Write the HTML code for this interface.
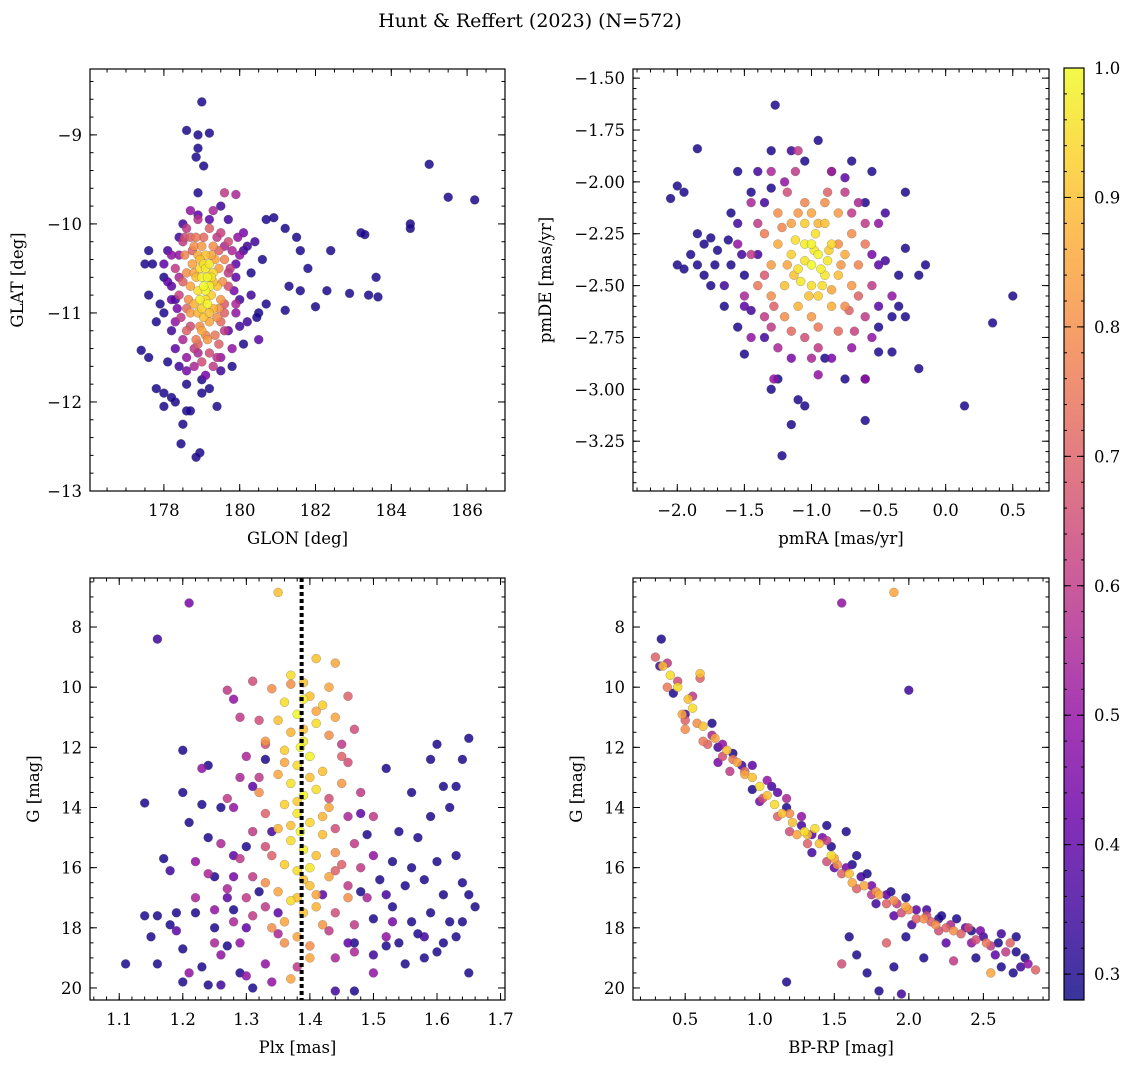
<!DOCTYPE html>
<html><head><meta charset="utf-8">
<style>
body{margin:0;background:#fff;}
svg{display:block;font-family:"DejaVu Serif","Liberation Serif",serif;}
</style></head>
<body>
<svg id="fig" width="1136" height="1068" viewBox="0 0 1136 1068" xmlns="http://www.w3.org/2000/svg">
<text x="530" y="27" font-size="19" text-anchor="middle">Hunt &amp; Reffert (2023) (N=572)</text>
</svg>
<script>
// ---- data: [x, y, membership probability] ----
const skyPoints = [
[179.0,-8.63,.3],[178.6,-8.95,.3],[178.9,-9.0,.3],[179.2,-8.98,.3],[178.9,-9.15,.3],[178.85,-9.25,.3],[179.05,-9.35,.3],[178.9,-9.65,.3],
[185.0,-9.33,.3],[185.5,-9.7,.3],[186.2,-9.73,.3],[184.5,-10.0,.3],[184.5,-10.05,.3],[183.2,-10.1,.3],[183.3,-10.12,.3],[182.4,-10.3,.3],
[181.5,-10.15,.3],[181.2,-10.05,.3],[180.7,-9.95,.3],[180.9,-9.93,.3],[181.6,-10.3,.3],[181.8,-10.5,.3],[180.1,-10.3,.35],[180.3,-10.55,.3],
[181.3,-10.7,.3],[181.6,-10.75,.3],[182.3,-10.75,.3],[182.9,-10.78,.3],[183.4,-10.8,.3],[183.65,-10.82,.3],[183.6,-10.6,.3],[182.0,-10.93,.3],
[181.2,-10.97,.3],[180.7,-10.9,.3],[180.5,-11.0,.3],[180.45,-11.05,.3],[180.0,-11.15,.35],[180.1,-11.35,.3],[179.8,-11.6,.3],[179.4,-12.05,.3],
[179.0,-11.9,.3],[178.6,-12.1,.3],[178.7,-12.1,.3],[178.5,-12.25,.3],[178.45,-12.47,.3],[178.95,-12.57,.3],[178.85,-12.62,.3],[178.3,-12.0,.3],
[178.2,-11.95,.3],[177.8,-11.85,.3],[178.0,-11.9,.3],[178.0,-12.05,.3],[177.6,-11.5,.3],[177.4,-11.42,.3],[178.1,-11.55,.3],[178.4,-11.6,.35],
[178.6,-11.8,.3],[179.0,-11.75,.3],[179.2,-11.85,.3],[179.5,-11.65,.35],[177.6,-10.8,.3],[177.5,-10.45,.3],[177.7,-10.45,.3],[177.6,-10.3,.3],
[178.1,-10.3,.35],[178.0,-10.6,.3],[177.9,-10.9,.3],[178.0,-11.0,.3],[177.8,-11.1,.3],[178.2,-11.2,.35],[178.3,-10.85,.35],[178.4,-10.15,.35],
[178.5,-10.0,.35],[178.9,-9.9,.4],[179.2,-9.95,.4],[179.5,-9.8,.35],[179.7,-9.95,.35],[180.2,-10.25,.35],[180.6,-10.4,.3],[180.0,-10.85,.35],
[180.2,-11.1,.35],[179.7,-11.2,.4],[179.9,-10.6,.4],[178.2,-10.7,.4],
[178.5,-10.2,.6],[179.5,-10.1,.62],[179.8,-10.3,.55],[179.6,-9.65,.6],[179.9,-9.67,.55],[178.9,-9.95,.58],[178.8,-11.4,.6],[179.4,-11.5,.58],
[179.2,-11.45,.65],[178.5,-11.3,.55],[179.6,-11.2,.6],[178.3,-10.5,.6],[179.9,-10.9,.55],[178.6,-11.5,.5],[179.0,-11.55,.65],[179.7,-10.7,.65],
[179.75,-10.5,.6],[178.4,-10.8,.62],[178.45,-11.05,.6],[179.6,-11.0,.7],[179.7,-10.2,.65],[178.6,-10.05,.6],[179.2,-10.05,.7],[178.7,-10.15,.7],
[179.45,-11.35,.7],[178.6,-11.2,.7],[178.9,-11.45,.55],[178.2,-10.35,.5],[180.0,-10.35,.5],[178.3,-11.1,.5],[179.8,-11.4,.5],[179.3,-9.85,.55],
[178.7,-9.85,.5],[180.1,-10.1,.45],[179.9,-11.0,.5],[179.95,-10.15,.5],
[179.1,-10.5,.97],[179.0,-10.6,.98],[179.2,-10.7,.99],[178.9,-10.75,.96],[179.1,-10.85,.95],[179.3,-10.55,.94],[179.0,-10.95,.93],[179.2,-10.45,.97],
[178.95,-10.5,.95],[179.15,-10.6,.99],[179.25,-10.8,.92],[178.85,-10.6,.9],[179.05,-11.05,.9],[179.3,-10.95,.88],[178.8,-10.9,.87],[179.4,-10.7,.9],
[179.1,-10.35,.9],[178.9,-10.35,.86],[179.35,-10.4,.85],[179.45,-10.5,.83],[178.75,-10.45,.84],[178.7,-10.7,.85],[179.5,-10.85,.82],[178.7,-11.0,.83],
[179.2,-11.1,.85],[178.95,-11.15,.8],[179.4,-11.05,.8],[178.6,-10.55,.8],[178.65,-10.85,.8],[179.55,-10.65,.8],[179.0,-10.25,.82],[179.3,-10.25,.8],
[178.8,-10.25,.8],[179.6,-10.4,.78],[178.55,-10.35,.78],[179.1,-11.25,.78],[178.85,-11.3,.76],[179.35,-11.25,.75],[179.05,-10.7,1.0],[179.15,-10.9,.99],
[178.95,-10.85,.98],[179.25,-10.6,.96],[179.05,-10.45,.96],[179.1,-10.75,.99]
];
const skyExtra = [
[178.8,-10.55,.85],[179.3,-10.65,.9],[178.9,-11.0,.88],[179.2,-11.0,.9],[179.0,-11.2,.85],[179.15,-11.3,.82],[178.95,-10.4,.9],[179.25,-10.35,.85],
[178.75,-10.3,.7],[179.45,-10.3,.7],[179.5,-11.1,.72],[178.6,-10.95,.72],[178.5,-10.65,.7],[179.6,-10.9,.68],[179.7,-10.55,.6],[178.4,-10.6,.55],
[178.35,-10.95,.45],[178.2,-10.85,.4],[179.85,-10.75,.45],[179.9,-10.45,.4],[178.55,-10.15,.65],[179.4,-10.15,.6],[178.8,-11.6,.55],[179.3,-11.6,.6],
[178.6,-11.65,.45],[179.5,-11.5,.5],[178.0,-10.45,.4],[178.1,-10.65,.4],[180.3,-10.8,.35],[180.4,-10.2,.35],[178.3,-11.4,.4],[179.1,-11.7,.45],
[178.4,-10.35,.5],[179.6,-10.25,.55],[178.7,-11.15,.65],[179.45,-10.95,.8],[178.85,-10.15,.75],[179.05,-10.15,.72],[178.9,-11.35,.7],[180.5,-11.3,.4]
];
const pmPoints = [
[-1.27,-1.63,.3],[-1.85,-1.84,.3],[-0.95,-1.8,.3],[-1.3,-1.85,.3],[-1.15,-1.85,.35],[-1.05,-1.9,.3],[-0.7,-1.9,.3],[-1.55,-1.95,.3],[-0.85,-1.95,.3],
[-0.55,-1.95,.3],[-1.3,-2.03,.3],[-2.0,-2.02,.3],[-2.05,-2.08,.3],[-1.95,-2.05,.3],[-0.3,-2.05,.3],[-1.45,-2.05,.3],[-0.6,-2.1,.3],[-1.6,-2.15,.3],
[-1.35,-2.1,.35],[-1.85,-2.25,.3],[-1.75,-2.27,.3],[-1.8,-2.3,.3],[-1.7,-2.33,.3],[-1.6,-2.4,.3],[-1.9,-2.35,.3],[-2.0,-2.4,.3],[-1.95,-2.42,.3],
[-1.85,-2.4,.3],[-1.75,-2.5,.3],[-1.5,-2.45,.3],[-1.4,-2.35,.35],[-0.3,-2.32,.3],[-0.35,-2.45,.3],[-0.2,-2.45,.3],[-0.15,-2.4,.3],[-0.45,-2.38,.35],
[-0.4,-2.65,.3],[-0.3,-2.65,.3],[-0.35,-2.6,.3],[-0.5,-2.7,.3],[0.5,-2.55,.3],[0.35,-2.68,.3],[-0.2,-2.9,.3],[0.14,-3.08,.3],[-0.4,-2.82,.3],
[-0.6,-2.95,.3],[-0.6,-3.15,.3],[-0.75,-2.95,.3],[-0.9,-2.85,.3],[-1.15,-3.17,.3],[-1.05,-3.08,.3],[-1.1,-3.05,.3],[-1.22,-3.32,.3],[-1.3,-3.0,.3],
[-1.25,-2.95,.3],[-1.5,-2.83,.3],[-1.35,-2.75,.35],[-1.55,-2.7,.3],[-1.65,-2.6,.3],[-1.45,-2.62,.35],[-0.5,-2.82,.3],
[-1.45,-2.35,.6],[-1.35,-2.65,.6],[-0.55,-2.5,.6],[-0.6,-2.65,.6],[-1.1,-1.85,.6],[-1.3,-1.95,.55],[-0.75,-2.05,.6],[-0.65,-2.1,.55],[-1.45,-2.1,.55],
[-1.5,-2.55,.55],[-1.25,-2.8,.55],[-0.95,-2.8,.6],[-0.7,-2.8,.5],[-1.45,-2.75,.5],[-0.5,-2.2,.5],[-0.85,-1.95,.55],[-1.2,-2.0,.5],[-0.55,-2.75,.5],
[-1.55,-2.3,.5],[-1.0,-2.85,.55],[-0.6,-2.95,.5],[-1.28,-2.95,.5],[-1.12,-1.95,.6],[-0.4,-2.55,.5],[-0.95,-2.93,.5],
[-1.0,-2.4,1],[-0.95,-2.35,.99],[-1.05,-2.3,.98],[-0.9,-2.45,.97],[-1.1,-2.42,.96],[-1.0,-2.5,.95],[-0.85,-2.3,.94],[-1.15,-2.35,.93],[-0.95,-2.55,.92],
[-1.05,-2.2,.92],[-0.9,-2.2,.9],[-1.2,-2.5,.9],[-0.8,-2.45,.9],[-1.1,-2.6,.88],[-0.85,-2.6,.87],[-1.25,-2.3,.86],[-0.75,-2.35,.86],[-1.0,-2.15,.85],
[-1.15,-2.2,.84],[-0.8,-2.15,.83],[-1.3,-2.4,.83],[-0.7,-2.5,.82],[-1.0,-2.65,.82],[-1.2,-2.65,.8],[-0.75,-2.6,.8],[-1.3,-2.55,.8],[-0.7,-2.25,.8],
[-1.25,-2.15,.8],[-0.9,-2.1,.8],[-1.05,-2.1,.78],[-0.65,-2.4,.78],[-1.35,-2.25,.76],[-1.4,-2.5,.75],[-0.6,-2.3,.75],[-0.95,-2.7,.75],[-1.15,-2.72,.72],
[-0.8,-2.72,.72],[-1.0,-2.3,.99],[-0.93,-2.42,.98],[-1.08,-2.48,.97],[-0.97,-2.25,.96],[-1.12,-2.28,.95],[-0.88,-2.38,.97]
];
const pmExtra = [
[-0.98,-2.33,.97],[-0.92,-2.5,.95],[-1.05,-2.38,.96],[-0.87,-2.33,.92],[-1.13,-2.45,.9],[-1.02,-2.55,.9],[-0.95,-2.2,.88],[-1.1,-2.15,.82],
[-0.85,-2.52,.85],[-1.18,-2.4,.85],[-0.78,-2.4,.82],[-0.8,-2.3,.8],[-1.22,-2.22,.78],[-0.72,-2.62,.7],[-1.28,-2.6,.7],[-0.65,-2.55,.7],
[-1.35,-2.45,.68],[-0.6,-2.2,.6],[-1.4,-2.2,.6],[-1.05,-2.75,.65],[-0.88,-2.05,.7],[-1.18,-2.05,.65],[-0.7,-2.15,.6],[-1.3,-2.7,.6],
[-0.68,-2.72,.62],[-1.52,-2.35,.35],[-1.62,-2.28,.3],[-1.72,-2.4,.3],[-1.8,-2.45,.3],[-1.65,-2.5,.35],[-1.55,-2.2,.35],[-1.5,-2.6,.4],
[-0.5,-2.4,.4],[-0.5,-2.6,.4],[-0.55,-2.35,.45],[-0.45,-2.15,.35],[-0.85,-2.85,.45],[-1.15,-2.85,.45],[-0.75,-1.98,.4],[-1.4,-1.95,.35]
];
const plxPoints = [
[1.21,7.2,.45],[1.16,8.4,.35],[1.11,19.2,.3],[1.14,13.85,.3],[1.14,17.6,.3],[1.15,18.3,.3],[1.16,17.6,.3],[1.16,19.2,.3],[1.17,15.7,.3],[1.18,17.9,.3],
[1.18,16.1,.35],[1.19,17.5,.3],[1.20,12.1,.3],[1.20,13.5,.3],[1.20,18.7,.3],[1.20,19.8,.3],[1.21,14.5,.3],[1.22,17.5,.3],[1.23,13.9,.3],[1.23,19.3,.3],
[1.24,12.6,.3],[1.24,15.0,.3],[1.24,19.9,.3],[1.25,16.3,.3],[1.25,18.0,.3],[1.26,14.0,.3],[1.27,18.6,.3],[1.28,17.4,.3],[1.29,19.5,.3],[1.30,15.3,.3],
[1.31,20.0,.3],[1.32,16.8,.3],[1.33,12.4,.3],[1.34,14.8,.35],[1.47,20.1,.3],[1.47,18.5,.3],[1.48,16.8,.3],[1.49,14.9,.3],[1.50,17.7,.3],[1.51,16.4,.3],
[1.52,12.7,.3],[1.52,18.6,.3],[1.53,15.8,.3],[1.53,17.3,.3],[1.54,14.8,.3],[1.54,18.5,.3],[1.55,16.6,.3],[1.55,19.2,.3],[1.56,17.8,.3],[1.56,13.5,.3],
[1.57,15.0,.3],[1.57,18.2,.3],[1.58,16.4,.3],[1.58,19.0,.3],[1.59,12.4,.3],[1.59,14.3,.3],[1.59,17.5,.3],[1.60,11.9,.3],[1.60,15.8,.3],[1.60,18.8,.3],
[1.61,16.9,.3],[1.61,13.3,.3],[1.62,14.0,.3],[1.62,17.8,.3],[1.63,13.3,.3],[1.63,15.6,.3],[1.63,18.3,.3],[1.64,12.4,.3],[1.64,16.5,.3],[1.64,17.8,.3],
[1.65,11.7,.3],[1.65,16.9,.3],[1.65,19.5,.3],[1.66,17.3,.3],[1.61,18.5,.3],[1.56,16.0,.3],[1.42,16.9,.4],[1.46,18.5,.4],[1.30,18.0,.4],[1.27,17.0,.4],
[1.48,14.2,.4],[1.31,13.3,.4],[1.35,17.5,.4],[1.50,18.9,.35],[1.26,19.9,.35],[1.44,20.1,.35],[1.52,16.9,.35],[1.28,15.6,.4],[1.58,18.3,.35],
[1.31,9.8,.65],[1.27,10.1,.6],[1.29,11.0,.6],[1.33,11.9,.65],[1.45,11.9,.6],[1.47,11.4,.65],[1.30,12.3,.55],[1.46,12.5,.65],[1.32,13.0,.6],[1.48,13.5,.6],
[1.27,13.7,.6],[1.46,14.3,.55],[1.50,14.3,.6],[1.28,14.0,.5],[1.31,14.8,.6],[1.44,14.7,.65],[1.26,15.2,.55],[1.33,15.3,.65],[1.47,15.2,.6],[1.29,15.7,.6],
[1.45,15.9,.7],[1.24,16.2,.55],[1.31,16.3,.6],[1.48,16.0,.6],[1.27,16.7,.55],[1.46,16.6,.6],[1.22,17.0,.55],[1.30,17.0,.6],[1.49,17.0,.55],[1.25,17.4,.5],
[1.33,17.3,.6],[1.44,17.5,.65],[1.28,17.8,.55],[1.47,17.9,.6],[1.35,18.2,.55],[1.52,18.3,.5],[1.29,18.5,.5],[1.43,18.1,.6],[1.26,18.9,.5],[1.44,19.0,.55],
[1.38,19.3,.6],[1.30,19.6,.5],[1.33,19.2,.5],[1.50,19.5,.5],[1.21,19.5,.5],[1.23,12.7,.5],[1.28,10.4,.5],
[1.35,6.85,.9],[1.41,9.05,.9],[1.44,9.2,.85],[1.37,9.6,.95],[1.39,9.85,.9],[1.43,10.0,.85],[1.34,10.05,.8],[1.40,10.3,.9],[1.36,10.5,.95],[1.42,10.6,.92],
[1.38,10.9,1],[1.35,11.1,.9],[1.41,11.2,.95],[1.37,11.5,.88],[1.43,11.6,.8],[1.39,11.8,.97],[1.36,12.1,.92],[1.40,12.3,.99],[1.38,12.6,.95],[1.42,12.8,.9],
[1.35,12.9,.85],[1.37,13.2,.96],[1.41,13.4,.95],[1.39,13.6,.99],[1.36,13.9,.93],[1.43,14.0,.85],[1.38,14.2,.97],[1.40,14.5,.94],[1.35,14.7,.88],[1.42,14.9,.9],
[1.37,15.1,.95],[1.39,15.4,.98],[1.41,15.6,.9],[1.36,15.9,.92],[1.38,16.1,.95],[1.43,16.3,.85],[1.40,16.6,.9],[1.35,16.8,.85],[1.37,17.1,.95],[1.41,17.3,.88],
[1.39,17.5,.9],[1.36,17.8,.85],[1.42,17.9,.82],[1.38,18.3,.85],[1.40,18.6,.8],[1.37,19.7,.85],[1.44,11.0,.85],[1.33,11.8,.82],[1.32,13.5,.8],[1.45,13.2,.82],
[1.44,15.5,.8],[1.33,16.5,.8],[1.46,17.0,.8],[1.34,18.0,.8],[1.385,12.0,1],[1.385,14.8,1],[1.39,10.4,.98],[1.40,16.0,.97]
];
const plxExtra = [
[1.37,9.9,.8],[1.41,10.8,.85],[1.39,11.4,.9],[1.36,12.5,.85],[1.40,13.0,.9],[1.38,13.8,.92],[1.42,14.3,.88],[1.37,14.6,.9],[1.39,16.4,.9],[1.41,16.9,.85],
[1.38,17.0,.9],[1.36,18.5,.8],[1.40,19.0,.85],[1.34,15.6,.7],[1.44,16.1,.7],[1.33,14.2,.7],[1.45,12.3,.7],[1.32,11.1,.65],[1.46,10.3,.7],[1.31,17.6,.6],
[1.47,18.8,.55],[1.25,18.5,.55],[1.34,19.8,.5],[1.28,16.3,.45],[1.50,15.6,.5],[1.53,17.8,.45],[1.22,15.8,.5],[1.19,18.1,.4],[1.29,13.0,.55],[1.43,13.7,.65]
];
const cmdPoints = [
[0.34,8.4,.3],[0.33,9.3,.35],[0.42,10.2,.3],[0.50,10.9,.35],[0.68,11.2,.3],[0.72,12.0,.35],[0.82,12.2,.3],[0.88,12.6,.35],[0.95,13.4,.3],[1.08,13.3,.35],
[1.18,14.0,.3],[1.28,14.6,.35],[1.35,15.5,.35],[1.48,15.3,.3],[1.58,14.8,.3],[1.62,15.9,.3],[1.72,16.2,.3],[1.78,17.2,.35],[1.88,16.8,.3],[1.98,17.0,.3],
[2.02,17.9,.35],[2.12,17.4,.35],[2.20,17.7,.3],[2.32,17.7,.3],[2.42,18.1,.3],[2.50,18.3,.35],[2.60,18.5,.3],[2.72,18.3,.3],[2.78,19.0,.3],[2.75,19.3,.35],
[2.70,19.5,.3],[2.62,19.3,.3],[2.0,10.1,.35],[1.55,7.2,.5],[1.18,19.8,.3],[1.60,18.3,.3],[1.65,18.9,.3],[1.72,19.5,.3],[1.80,20.1,.3],[1.95,20.2,.35],
[1.90,19.3,.3],[1.98,18.3,.3],[2.10,19.0,.3],[2.45,19.0,.3],[1.50,16.0,.4],[1.90,17.6,.4],[2.25,18.5,.4],[1.35,14.9,.4],[1.00,13.8,.45],[0.72,12.5,.45],[2.58,18.9,.4],
[0.30,9.0,.7],[0.38,10.0,.75],[0.50,11.1,.7],[0.65,11.9,.7],[0.75,12.3,.65],[0.90,12.8,.7],[1.02,13.7,.65],[1.12,14.3,.7],[1.20,14.8,.65],[1.32,15.2,.7],
[1.45,15.8,.65],[1.55,16.2,.7],[1.65,16.7,.7],[1.75,16.9,.6],[1.85,17.2,.7],[1.95,17.5,.65],[2.05,17.7,.7],[2.15,17.8,.7],[2.25,18.0,.7],[2.35,18.2,.7],
[2.45,18.4,.65],[2.55,18.6,.6],[2.65,18.8,.6],[2.68,18.5,.7],[2.85,19.4,.7],[1.85,18.5,.7],[1.55,19.2,.65],[2.30,19.1,.6],[0.60,9.7,.7],[0.80,12.8,.6],
[1.45,15.1,.6],[2.40,18.0,.65],[2.20,18.1,.65],
[0.35,9.3,.9],[0.40,9.6,.95],[0.45,10.0,.95],[0.52,10.4,.9],[0.60,9.55,.9],[0.55,10.7,.95],[0.62,11.3,.9],[0.70,11.7,.85],[0.78,12.1,.9],[0.85,12.5,.85],
[0.95,13.0,.9],[1.00,13.3,.95],[1.05,13.6,.9],[1.10,13.9,.95],[1.15,14.2,.9],[1.22,14.5,.9],[1.30,14.8,.95],[1.37,14.7,.95],[1.40,15.2,.9],[1.50,15.7,.85],
[1.60,16.2,.9],[1.70,16.6,.85],[1.80,16.9,.85],[1.90,17.1,.8],[2.00,17.4,.8],[2.10,17.7,.8],[2.30,18.1,.8],[2.55,19.5,.85],[1.90,6.85,.85],[0.48,10.9,.85],
[0.58,11.2,.8],[0.90,12.9,.85],[1.25,14.9,.85]
];
const cmdExtra = [
[0.38,9.2,.6],[0.45,9.8,.65],[0.55,10.3,.6],[0.5,11.4,.8],[0.62,11.8,.75],[0.68,11.6,.55],[0.75,11.9,.5],[0.82,12.4,.75],[0.95,12.6,.4],[1.05,13.1,.5],
[1.12,13.5,.4],[1.18,13.7,.55],[1.20,14.2,.8],[1.28,14.3,.5],[1.32,14.9,.9],[1.42,15.0,.45],[1.48,15.6,.95],[1.52,15.9,.8],[1.58,16.0,.45],[1.62,16.5,.85],
[1.68,16.3,.35],[1.75,16.6,.45],[1.78,16.8,.8],[1.85,16.9,.4],[1.92,17.2,.6],[1.98,17.3,.85],[2.05,17.4,.4],[2.12,17.6,.65],[2.18,17.9,.8],[2.22,17.6,.3],
[2.28,17.9,.55],[2.38,18.0,.4],[2.42,18.5,.5],[2.48,18.1,.45],[2.52,18.5,.75],[2.62,18.2,.35],[2.72,18.8,.3],[2.80,19.2,.5],[1.45,14.6,.3],[1.65,15.6,.3]
];
const meanPlx = 1.387;
const cbTicks = [0.3,0.4,0.5,0.6,0.7,0.8,0.9,1.0];

const NS = 'http://www.w3.org/2000/svg';
const svg = document.getElementById('fig');
function mk(tag, attrs, parent){ const e=document.createElementNS(NS,tag); for(const k in attrs) e.setAttribute(k,attrs[k]); (parent||svg).appendChild(e); return e; }

const stops=['#0d0887','#41049d','#6a00a8','#8f0da4','#b12a90','#cc4778','#e16462','#f2844b','#fca636','#fcce25','#f0f921'];
function hex(h){return [1,3,5].map(i=>parseInt(h.substr(i,2),16));}
const PMIN=0.28, PMAX=1.0;
function plasma(t){ t=Math.max(0,Math.min(1,t)); const f=t*10, i=Math.min(9,Math.floor(f)), u=f-i; const a=hex(stops[i]), b=hex(stops[i+1]); return 'rgb('+a.map((v,k)=>Math.round(v+(b[k]-v)*u)).join(',')+')'; }
function pcol(p){ return plasma((p-PMIN)/(PMAX-PMIN)); }

function fmt(v,dec){ let s=v.toFixed(dec); if(v<0) s='\u2212'+s.substring(1); return s; }

function panel(cfg){
  const {name,x0,y0,x1,y1,xlim,ylim,pts,xmaj,xmin,ymaj,ymin,xdec,ydec,xlabel,ylabel,ylabX} = cfg;
  const g = mk('g',{});
  
  
  const sx = v => x0 + (v-xlim[0])/(xlim[1]-xlim[0])*(x1-x0);
  const sy = v => y0 + (v-ylim[0])/(ylim[1]-ylim[0])*(y1-y0);
  const clip = mk('clipPath',{id:'c'+name},g); mk('rect',{x:x0,y:y0,width:x1-x0,height:y1-y0},clip);
  const pg = mk('g',{'clip-path':'url(#c'+name+')'},g);
  
  
  const sorted = pts.slice().sort((a,b)=>a[2]-b[2]);
  sorted.forEach(d=>{
    const c = mk('circle',{cx:sx(d[0]).toFixed(1),cy:sy(d[1]).toFixed(1),r:4.5,fill:pcol(d[2]),'fill-opacity':0.85,stroke:'#555','stroke-opacity':0.5,'stroke-width':0.5},pg);
    
    
  });
  if(cfg.vline!==undefined){
    const l = mk('line',{x1:sx(cfg.vline),x2:sx(cfg.vline),y1:y0,y2:y1,stroke:'#000','stroke-width':4,'stroke-dasharray':'4,3'},pg);
    
    
  }
  const frame = mk('rect',{x:x0,y:y0,width:x1-x0,height:y1-y0,fill:'none',stroke:'#000','stroke-width':1.2},g);
  
  
  const tk = mk('g',{stroke:'#000','stroke-width':1},g);
  const lo=Math.min(...ylim), hi=Math.max(...ylim);
  function ticks(a, b, step, len, isX){
    for(let k=Math.ceil(a/step-1e-6); k*step<=b+1e-9; k++){
      const v=k*step;
      if(isX){ const X=sx(v); mk('line',{x1:X,x2:X,y1:y1,y2:y1-len},tk); mk('line',{x1:X,x2:X,y1:y0,y2:y0+len},tk); }
      else { const Y=sy(v); mk('line',{x1:x0,x2:x0+len,y1:Y,y2:Y},tk); mk('line',{x1:x1,x2:x1-len,y1:Y,y2:Y},tk); }
    }
  }
  ticks(xlim[0],xlim[1],xmin,3.5,true); ticks(xlim[0],xlim[1],xmaj,7,true); ticks(lo,hi,ymin,3.5,false); ticks(lo,hi,ymaj,7,false);
  for(let k=Math.ceil(xlim[0]/xmaj-1e-6); k*xmaj<=xlim[1]+1e-9; k++){
    const v=k*xmaj; const t=mk('text',{x:sx(v),y:y1+25,'font-size':16.5,'text-anchor':'middle'},g); t.textContent=fmt(v,xdec);
     
  }
  for(let k=Math.ceil(lo/ymaj-1e-6); k*ymaj<=hi+1e-9; k++){
    const v=k*ymaj; const t=mk('text',{x:x0-8,y:sy(v)+6,'font-size':16.5,'text-anchor':'end'},g); t.textContent=fmt(v,ydec);
     
  }
  const xl=mk('text',{x:(x0+x1)/2,y:y1+53,'font-size':16.5,'text-anchor':'middle'},g); xl.textContent=xlabel;
   
  const yl=mk('text',{x:ylabX,y:(y0+y1)/2,'font-size':16.5,'text-anchor':'middle',transform:'rotate(-90 '+ylabX+' '+(y0+y1)/2+')'},g); yl.textContent=ylabel;
   
}

panel({name:'sky-panel',x0:90,y0:69,x1:505,y1:491,xlim:[176.05,187.0],ylim:[-8.26,-13.0],pts:skyPoints.concat(skyExtra),xmaj:2,xmin:0.5,ymaj:1,ymin:0.2,xdec:0,ydec:0,xlabel:'GLON [deg]',ylabel:'GLAT [deg]',ylabX:23});
panel({name:'pm-panel',x0:633,y0:69,x1:1049,y1:491,xlim:[-2.33,0.77],ylim:[-1.456,-3.49],pts:pmPoints.concat(pmExtra),xmaj:0.5,xmin:0.1,ymaj:0.25,ymin:0.05,xdec:1,ydec:2,xlabel:'pmRA [mas/yr]',ylabel:'pmDE [mas/yr]',ylabX:551});
panel({name:'plx-panel',x0:90,y0:578,x1:505,y1:1000,xlim:[1.054,1.707],ylim:[6.37,20.4],pts:plxPoints.concat(plxExtra),xmaj:0.1,xmin:0.02,ymaj:2,ymin:0.5,xdec:1,ydec:0,xlabel:'Plx [mas]',ylabel:'G [mag]',ylabX:39,vline:meanPlx});
panel({name:'cmd-panel',x0:633,y0:578,x1:1049,y1:1000,xlim:[0.15,2.94],ylim:[6.37,20.4],pts:cmdPoints.concat(cmdExtra),xmaj:0.5,xmin:0.1,ymaj:2,ymin:0.5,xdec:1,ydec:0,xlabel:'BP-RP [mag]',ylabel:'G [mag]',ylabX:582});

// colorbar
(function(){
  const cx0=1064, cx1=1084, cy0=68, cy1=1000, vmin=PMIN, vmax=PMAX;
  const g=mk('g',{});
  
  
  const defs=mk('defs',{},g);
  const lg=mk('linearGradient',{id:'cbg',x1:0,y1:1,x2:0,y2:0},defs);
  for(let i=0;i<=20;i++){ mk('stop',{offset:i/20,'stop-color':plasma(i/20),'stop-opacity':0.82},lg); }
  mk('rect',{x:cx0,y:cy0,width:cx1-cx0,height:cy1-cy0,fill:'url(#cbg)',stroke:'#000','stroke-width':1.2},g);
  const sy=v=>cy1-(v-vmin)/(vmax-vmin)*(cy1-cy0);
  for(let k=15;k<=50;k++){ const v=k*0.02; if(v<vmin||v>vmax+1e-9) continue; const Y=sy(v);
    mk('line',{x1:cx1,x2:cx1-3,y1:Y,y2:Y,stroke:'#000'},g); mk('line',{x1:cx0,x2:cx0+3,y1:Y,y2:Y,stroke:'#000'},g);}
  cbTicks.forEach(v=>{ const Y=sy(v);
    mk('line',{x1:cx1,x2:cx1-7,y1:Y,y2:Y,stroke:'#000'},g); mk('line',{x1:cx0,x2:cx0+7,y1:Y,y2:Y,stroke:'#000'},g);
    const t=mk('text',{x:cx1+10,y:Y+6,'font-size':16.5},g); t.textContent=v.toFixed(1);
     
  });
})();
</script>
</body></html>
